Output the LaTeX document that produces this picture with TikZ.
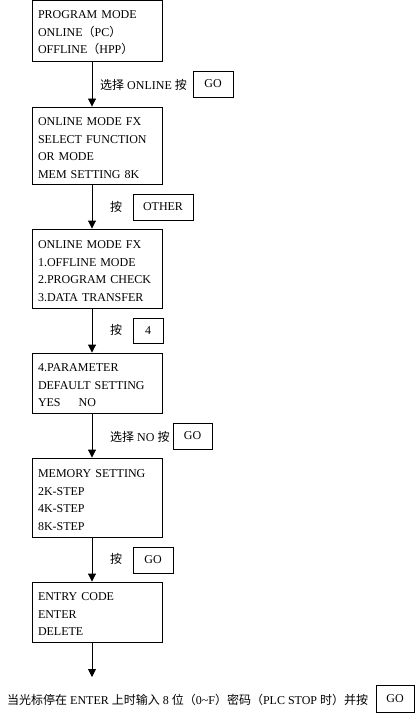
\documentclass[tikz,border=0pt]{standalone}
\usepackage{fontspec}
\setmainfont{Liberation Serif}
\newfontfamily\cjk{Noto Sans CJK SC}
\usetikzlibrary{arrows.meta}
\tikzset{
  box/.style={draw, line width=0.9pt, minimum width=130pt, text width=118pt, inner xsep=6pt, align=left, font=\fontsize{12}{17.5}\selectfont},
  keybox/.style={draw, line width=0.9pt, inner sep=0pt, font=\fontsize{12}{14}\selectfont},
  lbl/.style={inner sep=0pt, font=\fontsize{12}{14}\selectfont},
  arr/.style={line width=0.9pt, -{Triangle[width=8pt,length=8pt]}}
}
\newcommand{\topgap}{\rule{0pt}{13pt}}
\begin{document}
\begin{tikzpicture}[x=1pt,y=-1pt]
\useasboundingbox[fill=white] (0,0) rectangle (417,714);
\node[box, minimum height=61pt] (b1) at (97,30.5) {\topgap PROGRAM MODE\\ONLINE{\cjk（}PC{\cjk）}\\OFFLINE{\cjk（}HPP{\cjk）}};
\node[box, minimum height=77pt] (b2) at (97,145.5) {\topgap ONLINE MODE FX\\SELECT FUNCTION\\OR MODE\\MEM SETTING 8K};
\node[box, minimum height=79pt] (b3) at (97,268.5) {\topgap ONLINE MODE FX\\1.OFFLINE MODE\\2.PROGRAM CHECK\\3.DATA TRANSFER};
\node[box, minimum height=60pt] (b4) at (97,383) {\topgap 4.PARAMETER\\DEFAULT SETTING\\YES\hspace{18pt}NO};
\node[box, minimum height=79pt] (b5) at (97,497.5) {\topgap MEMORY SETTING\\2K-STEP\\4K-STEP\\8K-STEP};
\node[box, minimum height=60pt] (b6) at (97,612) {\topgap ENTRY CODE\\ENTER\\DELETE};
\coordinate (end) at (92,677);

\draw[arr] ([xshift=-5pt]b1.south) -- ([xshift=-5pt]b2.north);
\draw[arr] ([xshift=-5pt]b2.south) -- ([xshift=-5pt]b3.north);
\draw[arr] ([xshift=-5pt]b3.south) -- ([xshift=-5pt]b4.north);
\draw[arr] ([xshift=-5pt]b4.south) -- ([xshift=-5pt]b5.north);
\draw[arr] ([xshift=-5pt]b5.south) -- ([xshift=-5pt]b6.north);
\draw[arr] ([xshift=-5pt]b6.south) -- (end);

\node[lbl, anchor=west] (l1) at (100,85) {{\cjk 选择} ONLINE {\cjk 按}};
\node[keybox, minimum width=40pt, minimum height=26pt] (k1) at (213,84) {GO};
\node[lbl, anchor=west] (l2) at (110,207) {\cjk 按};
\node[keybox, minimum width=60pt, minimum height=26pt] (k2) at (163,207) {OTHER};
\node[lbl, anchor=west] (l3) at (110,330) {\cjk 按};
\node[keybox, minimum width=30pt, minimum height=25pt] (k3) at (148,330.5) {4};
\node[lbl, anchor=west] (l4) at (110,437) {{\cjk 选择} NO {\cjk 按}};
\node[keybox, minimum width=39pt, minimum height=26pt] (k4) at (192.5,436) {GO};
\node[lbl, anchor=west] (l5) at (110,559) {\cjk 按};
\node[keybox, minimum width=40pt, minimum height=26pt] (k5) at (153,560) {GO};
\node[lbl, anchor=west] (l6) at (7,700) {{\cjk 当光标停在} ENTER {\cjk 上时输入} 8 {\cjk 位（}0\textasciitilde F{\cjk ）密码（}PLC STOP {\cjk 时）并按}};
\node[keybox, minimum width=38pt, minimum height=27pt] (k6) at (395,699) {GO};
\end{tikzpicture}
\end{document}
